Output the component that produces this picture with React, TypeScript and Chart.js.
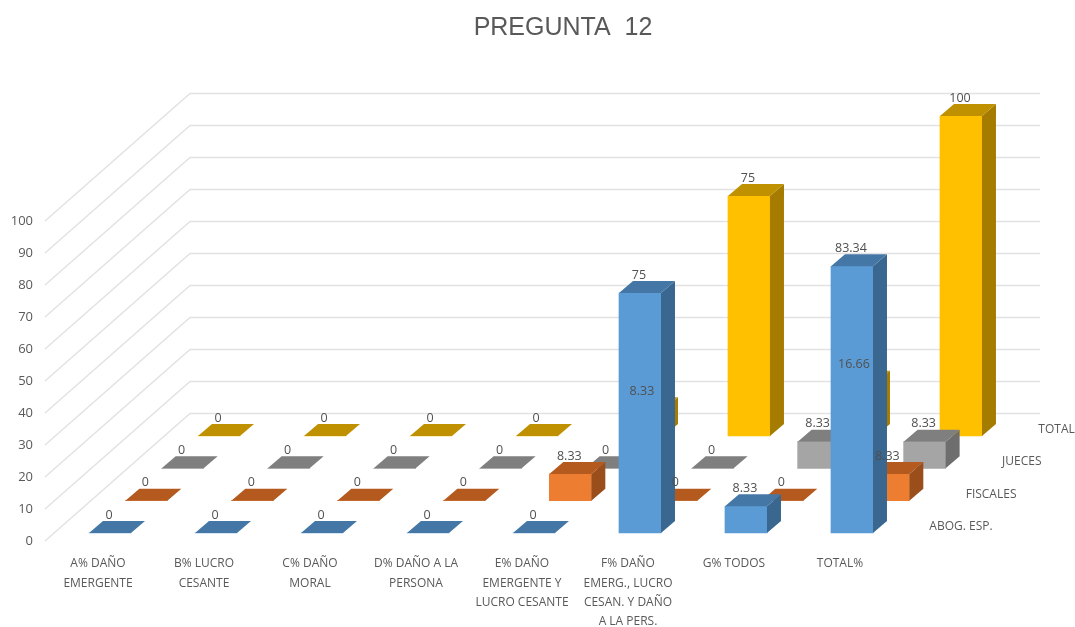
import React, { useEffect, useRef } from "react";
import { Chart, registerables } from "chart.js";

Chart.register(...registerables);

const titleText = "PREGUNTA  12";
const categories: string[][] = [
  ["A% DAÑO", "EMERGENTE"],
  ["B% LUCRO", "CESANTE"],
  ["C% DAÑO", "MORAL"],
  ["D% DAÑO A LA", "PERSONA"],
  ["E% DAÑO", "EMERGENTE Y", "LUCRO CESANTE"],
  ["F% DAÑO", "EMERG., LUCRO", "CESAN. Y DAÑO", "A LA PERS."],
  ["G% TODOS"],
  ["TOTAL%"],
];
const seriesNames = ["ABOG. ESP.", "FISCALES", "JUECES", "TOTAL"];
const abogados = [0, 0, 0, 0, 0, 75, 8.33, 83.34];
const fiscales = [0, 0, 0, 0, 8.33, 0, 0, 8.33];
const jueces = [0, 0, 0, 0, 0, 0, 8.33, 8.33];
const total = [0, 0, 0, 0, 8.33, 75, 16.66, 100];
const seriesValues = [abogados, fiscales, jueces, total];
const frontColors = ["#5b9bd5", "#ed7d31", "#a5a5a5", "#ffc000"];
const topColors = ["#4477a6", "#b55a1f", "#7f7f7f", "#bf9000"];
const sideColors = ["#3a6790", "#9a4e1b", "#6e6e6e", "#a67c00"];

const FONT = '"Open Sans", sans-serif';
const TEXT = "#595959";
const PX_PER_UNIT = 3.2; // vertical pixels per value unit
const PX_PER_CAT = 106; // horizontal pixels per category
const SERIES_DX = 36.33; // oblique shift of one series row
const SERIES_DY = 32.33;
const BAR_W = 42;
const FACE_DX = 14; // oblique depth of one bar
const FACE_DY = 12;
const WALL_DX = 145; // oblique depth of the whole floor
const WALL_DY = 127.5;
const X_MIN = -0.5;
const X_SPAN = 9.387;
const Y_MAX = 140;

const seriesScales: Record<string, any> = {};
seriesNames.forEach((_, s) => {
  const xMin = X_MIN - (12 + SERIES_DX * s) / PX_PER_CAT;
  const yMin = (-8 - SERIES_DY * s) / PX_PER_UNIT;
  seriesScales[`x${s}`] = { type: "linear", display: false, offset: false, min: xMin, max: xMin + X_SPAN };
  seriesScales[`y${s}`] = { type: "linear", display: false, min: yMin, max: yMin + Y_MAX };
});

const obliquePlugin = {
  id: "oblique",
  afterLayout(chart: any) {
    // the title sits right of the canvas centre, as in the reference
    chart.titleBlock.left = 51;
    chart.titleBlock.right = chart.width;
  },
  beforeDatasetsDraw(chart: any) {
    const { ctx, chartArea, scales } = chart;
    ctx.save();
    ctx.strokeStyle = "#e2e2e2";
    ctx.lineWidth = 1.5;
    for (const t of scales.y.ticks) {
      const py = scales.y.getPixelForValue(t.value);
      ctx.beginPath();
      ctx.moveTo(chartArea.left, py);
      ctx.lineTo(chartArea.left + WALL_DX, py - WALL_DY);
      ctx.lineTo(chartArea.right, py - WALL_DY);
      ctx.stroke();
    }
    ctx.restore();
  },
  afterDatasetDraw(chart: any, args: any) {
    const { ctx } = chart;
    const ds = chart.data.datasets[args.index];
    ctx.save();
    for (const el of args.meta.data) {
      const { x, y, base, width } = el.getProps(["x", "y", "base", "width"], true);
      const l = x - width / 2;
      const r = x + width / 2;
      ctx.fillStyle = ds.sideColor;
      ctx.beginPath();
      ctx.moveTo(r, y);
      ctx.lineTo(r + FACE_DX, y - FACE_DY);
      ctx.lineTo(r + FACE_DX, base - FACE_DY);
      ctx.lineTo(r, base);
      ctx.closePath();
      ctx.fill();
      ctx.fillStyle = ds.topColor;
      ctx.beginPath();
      ctx.moveTo(l, y);
      ctx.lineTo(r, y);
      ctx.lineTo(r + FACE_DX, y - FACE_DY);
      ctx.lineTo(l + FACE_DX, y - FACE_DY);
      ctx.closePath();
      ctx.fill();
    }
    ctx.restore();
  },
  afterDatasetsDraw(chart: any) {
    const { ctx, scales } = chart;
    ctx.save();
    ctx.font = `12.5px ${FONT}`;
    ctx.fillStyle = "#505050";
    ctx.textAlign = "center";
    ctx.textBaseline = "middle";
    chart.data.datasets.forEach((ds: any, s: number) => {
      chart.getDatasetMeta(s).data.forEach((el: any, i: number) => {
        const { x, y } = el.getProps(["x", "y"], true);
        ctx.fillText(String(ds.data[i].y), x - 1, y - 18);
      });
    });
    ctx.font = `12px ${FONT}`;
    ctx.fillStyle = TEXT;
    ctx.textAlign = "left";
    seriesNames.forEach((name, s) => {
      ctx.fillText(
        name,
        scales[`x${s}`].getPixelForValue(7.73),
        scales[`y${s}`].getPixelForValue(2)
      );
    });
    ctx.restore();
  },
};

export default function App() {
  const ref = useRef<HTMLCanvasElement>(null);
  useEffect(() => {
    const chart = new Chart(ref.current!, {
      type: "bar",
      plugins: [obliquePlugin],
      data: {
        datasets: seriesValues.map((vals, s) => ({
          label: seriesNames[s],
          data: vals.map((v, i) => ({ x: i, y: v })),
          xAxisID: `x${s}`,
          yAxisID: `y${s}`,
          backgroundColor: frontColors[s],
          topColor: topColors[s],
          sideColor: sideColors[s],
          barThickness: BAR_W,
          grouped: false,
        })) as any,
      },
      options: {
        animation: false,
        responsive: false,
        layout: { padding: { left: 0, right: 35, top: 0, bottom: 0 } },
        plugins: {
          legend: { display: false },
          tooltip: { enabled: false },
          title: {
            display: true,
            text: titleText,
            color: "#595959",
            font: { family: '"Liberation Sans", sans-serif', size: 25, weight: "normal" },
            padding: { top: 13, bottom: 50 },
          },
        },
        scales: {
          ...seriesScales,
          x: {
            type: "linear",
            offset: false,
            min: X_MIN,
            max: X_MIN + X_SPAN,
            grid: { display: false },
            border: { display: false },
            afterBuildTicks: (axis: any) => {
              axis.ticks = categories.map((_, i) => ({ value: i }));
            },
            afterFit: (axis: any) => {
              axis.height = 86;
            },
            ticks: {
              autoSkip: false,
              maxRotation: 0,
              padding: 5,
              color: TEXT,
              font: { family: FONT, size: 12, lineHeight: 1.62 },
              callback: (v: any) => categories[v],
            },
          },
          y: {
            type: "linear",
            min: 0,
            max: Y_MAX,
            grid: { display: false, drawTicks: false },
            border: { display: false },
            afterBuildTicks: (axis: any) => {
              axis.ticks = axis.ticks.filter((t: any) => t.value <= 100);
            },
            afterFit: (axis: any) => {
              axis.width = 45;
            },
            ticks: {
              stepSize: 10,
              padding: 12,
              color: TEXT,
              font: { family: FONT, size: 13 },
            },
          },
        },
      } as any,
    });
    return () => chart.destroy();
  }, []);
  return (
    <canvas
      ref={ref}
      width={1075}
      height={627}
      style={{ position: "fixed", left: 0, top: 0, width: 1075, height: 627, filter: "blur(0.5px)" }}
    />
  );
}
